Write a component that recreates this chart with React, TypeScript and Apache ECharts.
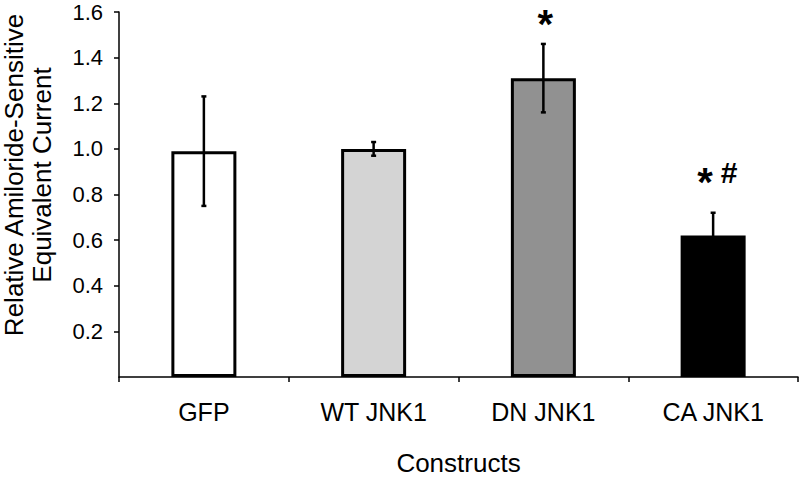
import React, { useEffect, useRef } from "react";
import * as echarts from "echarts";

const categories = ["GFP", "WT JNK1", "DN JNK1", "CA JNK1"];
const values = [0.99, 1.0, 1.31, 0.62];
const errors = [0.24, 0.03, 0.15, 0.1];
const barColors = ["#ffffff", "#d4d4d4", "#919191", "#000000"];
const annotationText = ["", "", "*", "*#"];
const annotationY = [null, null, 1.6, 0.895];
const yTicks = [0, 0.2, 0.4, 0.6, 0.8, 1.0, 1.2, 1.4, 1.6];

const FONT = "'Liberation Sans', Arial, sans-serif";

export default function App() {
  const ref = useRef<HTMLDivElement>(null);
  useEffect(() => {
    if (!ref.current) return;
    const chart = echarts.init(ref.current, null, { renderer: "svg" });

    const errData = categories.map((_, i) => [i, values[i] - errors[i], values[i] + errors[i]]);
    const annData: number[][] = [];
    const annIdx: number[] = [];
    annotationY.forEach((v, i) => {
      if (v != null && annotationText[i]) {
        annData.push([i, v]);
        annIdx.push(i);
      }
    });

    const starStyle = {
      text: "*",
      font: `bold 40px ${FONT}`,
      fill: "#000",
      align: "center",
      verticalAlign: "middle",
      lineHeight: 24,
    };

    chart.setOption({
      animation: false,
      backgroundColor: "#ffffff",
      textStyle: { fontFamily: FONT },
      grid: { left: 119, right: 2, top: 12, bottom: 96, containLabel: false },
      xAxis: {
        type: "category",
        data: categories,
        boundaryGap: true,
        name: "Constructs",
        nameLocation: "middle",
        nameGap: 73,
        nameTextStyle: { fontSize: 26, color: "#000", fontFamily: FONT, lineHeight: 26 },
        axisLine: { lineStyle: { color: "#000", width: 1.5 } },
        axisTick: { show: true, length: 5, lineStyle: { color: "#000", width: 1.5 } },
        axisLabel: { fontSize: 25, color: "#000", margin: 22, fontFamily: FONT },
        splitLine: { show: false },
      },
      yAxis: {
        type: "value",
        min: yTicks[0],
        max: yTicks[yTicks.length - 1],
        interval: 0.2,
        axisLine: { show: true, lineStyle: { color: "#000", width: 1.5 } },
        axisTick: { show: true, length: 5, lineStyle: { color: "#000", width: 1.5 } },
        axisLabel: {
          fontSize: 22,
          color: "#000",
          margin: 16,
          fontFamily: FONT,
          showMinLabel: false,
          formatter: (v: number) => v.toFixed(1),
        },
        splitLine: { show: false },
      },
      graphic: [
        {
          type: "text",
          x: 28,
          y: 175,
          rotation: Math.PI / 2,
          style: {
            text: "Relative Amiloride-Sensitive\nEquivalent Current",
            font: `26px ${FONT}`,
            fill: "#000",
            align: "center",
            verticalAlign: "middle",
            lineHeight: 28,
          },
        },
      ],
      series: [
        {
          type: "bar",
          data: values.map((v, i) => ({
            value: v,
            itemStyle: { color: barColors[i], borderColor: "#000", borderWidth: 3 },
          })),
          barWidth: 65,
          z: 2,
        },
        {
          type: "custom",
          data: errData,
          encode: { x: 0, y: [1, 2] },
          z: 5,
          renderItem: (params: any, api: any) => {
            const i = api.value(0);
            const lo = api.coord([i, api.value(1)]);
            const hi = api.coord([i, api.value(2)]);
            const cap = 2.5;
            const st = { stroke: "#000", lineWidth: 2.5 };
            return {
              type: "group",
              children: [
                { type: "line", shape: { x1: hi[0], y1: hi[1], x2: lo[0], y2: lo[1] }, style: st },
                { type: "line", shape: { x1: hi[0] - cap, y1: hi[1], x2: hi[0] + cap, y2: hi[1] }, style: st },
                { type: "line", shape: { x1: lo[0] - cap, y1: lo[1], x2: lo[0] + cap, y2: lo[1] }, style: st },
              ],
            };
          },
        },
        {
          type: "custom",
          data: annData,
          encode: { x: 0, y: 1 },
          z: 6,
          renderItem: (params: any, api: any) => {
            const p = api.coord([api.value(0), api.value(1)]);
            const t = annotationText[annIdx[params.dataIndex]];
            const chars = t.split("");
            const children: any[] = [];
            if (chars.length === 1) {
              children.push({ type: "text", x: p[0] + 2, y: Math.max(p[1] + 9, 24), style: starStyle });
            } else {
              children.push({ type: "text", x: p[0] - 8, y: p[1] + 9, style: starStyle });
              children.push({
                type: "text",
                x: p[0] + 16,
                y: p[1],
                style: { text: chars[1], font: `bold 30px ${FONT}`, fill: "#000", align: "center", verticalAlign: "middle" },
              });
            }
            return { type: "group", children };
          },
        },
      ],
    });
    return () => chart.dispose();
  }, []);
  return (
    <div
      ref={ref}
      style={{ position: "absolute", left: 0, top: 0, width: 800, height: 481 }}
    />
  );
}
